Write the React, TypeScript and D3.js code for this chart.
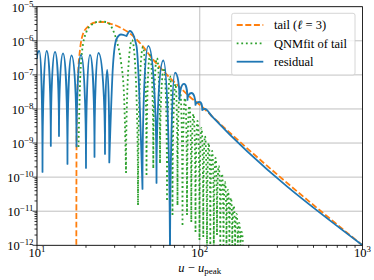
import * as d3 from "d3";

// residual (blue): tops and dips of the lobes, then the power-law tail
const residualU = [10, 10.33, 10.81, 11.47, 12.16, 12.9, 13.65, 14.45, 15.39, 16.29, 17.49, 18.64, 20.0, 21.17, 22.56, 23.88, 26.17, 26.99, 27.81, 29.31, 30.8, 32.82, 35.47, 37.27, 40.87, 44.48, 48.3, 54.24, 59.71, 65.64, 70.46, 75.09, 80.03, 84.1, 88.99, 94.17, 99.65, 103.7, 107.7, 118.9, 1000];
const residualV = [3.13e-7, 5.02e-7, 1.42e-10, 5.02e-7, 8.22e-10, 4.7e-7, 1.61e-9, 4.25e-7, 2.44e-10, 3.71e-7, 7.94e-10, 3.84e-7, 1.86e-10, 3.84e-7, 3.91e-10, 4.38e-7, 4.79e-10, 1.39e-7, 2.7e-10, 1.95e-7, 1.13e-6, 1.53e-6, 1.38e-6, 1.94e-6, 7.05e-7, 4.51e-11, 7.05e-7, 6.76e-11, 2.64e-7, 1e-13, 1.17e-7, 1.84e-8, 5.41e-8, 1.84e-8, 2.94e-8, 1.31e-8, 1.6e-8, 9.35e-9, 1e-8, 6.03e-9, 1e-12];

// tail (l = 3), orange dashed
const tailU = [17.43, 17.49, 17.66, 17.94, 18.37, 19.17, 20.58, 22.72, 25.44, 28.09, 30.58, 33.3, 37.27, 43.98, 50.67, 57.0, 65.64, 75.61, 87.11, 100.4, 118.9, 1000];
const tailV = [1e-13, 6.28e-10, 1.84e-8, 1.39e-7, 5.37e-7, 1.58e-6, 2.62e-6, 3.44e-6, 3.56e-6, 3.21e-6, 2.81e-6, 2.3e-6, 1.64e-6, 7.54e-7, 3.13e-7, 1.65e-7, 8.11e-8, 4.27e-8, 2.25e-8, 1.31e-8, 6.11e-9, 1e-12];

// QNM fit of tail, green dotted
const fitU = [17.99, 18.37, 18.9, 20.0, 21.78, 24.38, 26.55, 28.89, 31.01, 32.82, 34.24, 35.24, 38.35, 41.75, 44.81, 47.09, 49.48, 51.83, 54.62, 57.0, 60.31, 62.93, 65.64, 68.01, 70.97, 72.99, 75.61, 78.35, 81.17, 83.5, 86.5, 88.74, 91.54, 94.17, 96.87, 99.65, 102.5, 105.1, 107.7, 110.8, 113.5, 116.1, 119.2, 122.0, 125.0, 127.6, 130.9, 133.7, 137.0, 139.9, 142.9, 146.0, 149.1, 152.1, 155.6, 158.5, 161.9, 164.9, 168.2, 171.4, 174.8, 177.8, 181.1, 184.5];
const fitV = [7.69e-10, 5.06e-8, 4.7e-7, 1.69e-6, 3.01e-6, 3.68e-6, 3.56e-6, 2.37e-6, 9.23e-7, 2.39e-7, 2.58e-8, 1.33e-10, 1.05e-6, 1.53e-11, 6.58e-7, 1.16e-10, 3.84e-7, 1.86e-10, 3.13e-7, 2.61e-10, 1.59e-7, 2.14e-11, 9.29e-8, 7.78e-12, 5.41e-8, 1.53e-11, 3.61e-8, 3.96e-12, 2.1e-8, 7.78e-12, 1.23e-8, 4.86e-12, 7.13e-9, 2.47e-12, 4.45e-9, 1.44e-12, 2.77e-9, 1.76e-12, 1.61e-9, 5e-13, 1.01e-9, 8e-13, 5.86e-10, 5e-13, 3.66e-10, 2.02e-12, 2.13e-10, 5e-13, 1.24e-10, 5e-13, 7.23e-11, 5e-13, 4.21e-11, 5e-13, 2.46e-11, 5e-13, 1.43e-11, 5e-13, 8.33e-12, 5e-13, 4.54e-12, 5e-13, 2.47e-12, 5e-13];

const legendLabels = ["tail", "QNMfit of tail", "residual"];

const W = 374;
const H = 280;
const left = 37;
const right = 362.5;
const top = 6.7;
const bottom = 245.3;
const font = "Liberation Serif";

const x = d3.scaleLog().domain([10, 1000]).range([left, right]);
const y = d3.scaleLog().domain([1e-12, 1e-5]).range([bottom, top]);

const isMajor = (t: number) => Math.abs(Math.log10(t) - Math.round(Math.log10(t))) < 1e-6;
const expo = (t: number) => {
  const e = Math.round(Math.log10(t));
  return e < 0 ? "\u2212" + Math.abs(e) : String(e);
};

// split at the dips: a single lobe (dip, top, dip) is drawn as an arch,
// longer pieces go through a monotone curve
function lobePath(us: number[], vs: number[]) {
  const pts: [number, number][] = us.map((u, i) => [x(u), y(vs[i])]);
  const mono = d3.line().curve(d3.curveMonotoneX);
  const k = 0.55;
  let d = "";
  const seg = (s: [number, number][]) => {
    if (s.length === 3 && s[1][1] < s[0][1] && s[1][1] < s[2][1]) {
      const [p0, p1, p2] = s;
      const p = d3.path();
      p.moveTo(p0[0], p0[1]);
      p.bezierCurveTo(p0[0], p0[1] + k * (p1[1] - p0[1]), p1[0] - k * (p1[0] - p0[0]), p1[1], p1[0], p1[1]);
      p.bezierCurveTo(p1[0] + k * (p2[0] - p1[0]), p1[1], p2[0], p2[1] - k * (p2[1] - p1[1]), p2[0], p2[1]);
      d += p.toString();
    } else {
      d += mono(s);
    }
  };
  let start = 0;
  for (let i = 1; i < pts.length - 1; i++) {
    if (vs[i] < vs[i - 1] && vs[i] < vs[i + 1]) {
      seg(pts.slice(start, i + 1));
      start = i;
    }
  }
  seg(pts.slice(start));
  return d;
}

export default function App() {
  const xt = x.ticks();
  const yt = y.ticks();
  const legendY = [25, 43.3, 61.7];
  return (
    <svg width={W} height={H} style={{ position: "absolute", left: 0, top: 0, background: "white" }}>
      <defs>
        <clipPath id="plot">
          <rect x={left} y={top} width={right - left} height={bottom - top} />
        </clipPath>
      </defs>

      {/* grid */}
      <g stroke="#b0b0b0" strokeWidth={0.8}>
        {yt.filter(isMajor).map((t) => (
          <line key={"gy" + t} x1={left} x2={right} y1={y(t)} y2={y(t)} />
        ))}
        {xt.filter(isMajor).map((t) => (
          <line key={"gx" + t} x1={x(t)} x2={x(t)} y1={top} y2={bottom} />
        ))}
      </g>

      <g clipPath="url(#plot)" fill="none" strokeWidth={1.8}>
        <path d={lobePath(tailU, tailV)} stroke="#ff7f0e" strokeDasharray="6,2.6" />
        <path d={lobePath(fitU, fitV)} stroke="#2ca02c" strokeDasharray="1.8,2.8" />
        <path d={lobePath(residualU, residualV)} stroke="#1f77b4" strokeLinejoin="round" strokeLinecap="round" />
      </g>

      {/* frame */}
      <rect x={left} y={top} width={right - left} height={bottom - top} fill="none" stroke="black" strokeWidth={0.8} />

      {/* ticks */}
      <g stroke="black" strokeWidth={0.8}>
        {xt.map((t) => (
          <line key={"xt" + t} x1={x(t)} x2={x(t)} y1={bottom} y2={bottom + (isMajor(t) ? 4.5 : 2.5)} />
        ))}
        {yt.map((t, i) => (
          <line key={"yt" + i} x1={left} x2={left - (isMajor(t) ? 4.5 : 2.5)} y1={y(t)} y2={y(t)} />
        ))}
      </g>
      <g fontSize={12.5} fill="black" fontFamily={font}>
        {xt.filter(isMajor).map((t) => (
          <text key={"xl" + t} x={x(t)} y={256.5} textAnchor="middle">
            10<tspan fontSize={8.8} dy={-5}>{expo(t)}</tspan>
          </text>
        ))}
        {yt.filter(isMajor).map((t) => (
          <text key={"yl" + t} x={33.5} y={y(t) + 5} textAnchor="end">
            10<tspan fontSize={8.8} dy={-5}>{expo(t)}</tspan>
          </text>
        ))}
        <text x={(left + right) / 2} y={271.5} textAnchor="middle">
          <tspan fontStyle="italic">u</tspan> {"\u2212"} <tspan fontStyle="italic">u</tspan>
          <tspan fontSize={9} dy={2.5}>peak</tspan>
        </text>
      </g>

      {/* legend */}
      <rect x={231.7} y={13.3} width={123.3} height={61.7} rx={2} fill="white" fillOpacity={0.8} stroke="#cccccc" strokeWidth={0.8} />
      <g strokeWidth={1.8}>
        <line x1={236.7} x2={263.3} y1={legendY[0]} y2={legendY[0]} stroke="#ff7f0e" strokeDasharray="6,2.6" />
        <line x1={236.7} x2={263.3} y1={legendY[1]} y2={legendY[1]} stroke="#2ca02c" strokeDasharray="1.8,2.8" />
        <line x1={236.7} x2={263.3} y1={legendY[2]} y2={legendY[2]} stroke="#1f77b4" />
      </g>
      <g fontSize={12.5} fill="black" fontFamily={font}>
        <text x={274} y={legendY[0] + 4.2}>
          {legendLabels[0]} (<tspan fontStyle="italic">ℓ</tspan> = 3)
        </text>
        <text x={274} y={legendY[1] + 4.2}>{legendLabels[1]}</text>
        <text x={274} y={legendY[2] + 4.2}>{legendLabels[2]}</text>
      </g>
    </svg>
  );
}
